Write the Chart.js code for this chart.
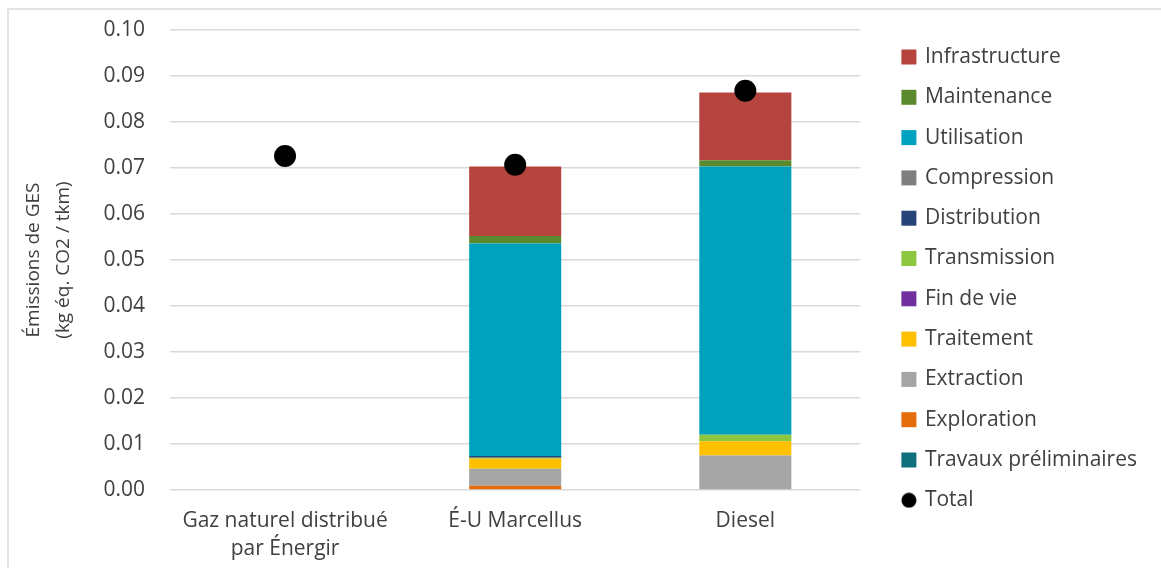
<!DOCTYPE html>
<html lang="fr">
<head>
  <meta charset="UTF-8">
  <title>Émissions de GES par filière</title>
  <script src="https://cdn.jsdelivr.net/npm/chart.js"></script>
  <style>
    body { margin: 0; background: #ffffff; }
    .wrap { position: relative; width: 1161px; height: 568px; }
    /* light frame visible on the top and left of the original picture */
    .frame {
      position: absolute; left: 7px; top: 8px; right: -2px; bottom: -2px;
      border-top: 2px solid #e3e3e3; border-left: 2px solid #e3e3e3;
    }
    canvas { position: relative; }
  </style>
</head>
<body>
  <div class="wrap">
    <div class="frame"></div>
    <canvas id="chart"></canvas>
  </div>

  <script>
    const categories = [['Gaz naturel distribué', 'par Énergir'], 'É-U Marcellus', 'Diesel'];

    // stacked from the bottom up
    const travaux        = [null, 0, 0];
    const exploration    = [null, 0.0009, 0];
    const extraction     = [null, 0.0037, 0.0075];
    const traitement     = [null, 0.0022, 0.0031];
    const finDeVie       = [null, 0, 0];
    const transmission   = [null, 0.0002, 0.0014];
    const distribution   = [null, 0.0004, 0];
    const compression    = [null, 0, 0];
    const utilisation    = [null, 0.0462, 0.0583];
    const maintenance    = [null, 0.0016, 0.0014];
    const infrastructure = [null, 0.0151, 0.0147];
    const totals         = [0.0726, 0.0707, 0.0868];

    const yTicks = [0, 0.01, 0.02, 0.03, 0.04, 0.05, 0.06, 0.07, 0.08, 0.09, 0.10];

    const textColor = '#404040';
    const fontFamily = "'Open Sans', sans-serif";

    function bar(label, data, color) {
      return { type: 'bar', label, data, backgroundColor: color, borderWidth: 0,
               barPercentage: 0.4, categoryPercentage: 1, stack: 'parts', pointStyle: 'rect' };
    }

    // black disc used in the legend for "Total"
    const dot = document.createElement('canvas');
    dot.width = 16; dot.height = 16;
    const dctx = dot.getContext('2d');
    dctx.fillStyle = '#000';
    dctx.beginPath(); dctx.arc(8, 8, 7.5, 0, Math.PI * 2); dctx.fill();

    const datasets = [
      bar('Travaux préliminaires', travaux, '#10707C'),
      bar('Exploration', exploration, '#E46C0A'),
      bar('Extraction', extraction, '#A5A5A5'),
      bar('Traitement', traitement, '#FFC000'),
      bar('Fin de vie', finDeVie, '#7030A0'),
      bar('Transmission', transmission, '#8DC63F'),
      bar('Distribution', distribution, '#264478'),
      bar('Compression', compression, '#7F7F7F'),
      bar('Utilisation', utilisation, '#00A1BF'),
      bar('Maintenance', maintenance, '#5B8A2E'),
      bar('Infrastructure', infrastructure, '#B5443F'),
      { type: 'line', label: 'Total', data: totals, stack: 'total', showLine: false,
        pointRadius: 11, pointHoverRadius: 11, pointBackgroundColor: '#000', pointBorderWidth: 0,
        borderColor: '#000', backgroundColor: '#000', order: -1 }
    ];
    const totalIdx = datasets.length - 1;

    // empty helper axes, only used to reserve space around the plot
    function spacer(position, size) {
      return {
        position, display: true,
        grid: { display: false, drawTicks: false },
        border: { display: false },
        ticks: { display: false },
        afterFit(s) { if (position === 'top') s.height = size; else s.width = size; }
      };
    }

    const ctx = document.getElementById('chart').getContext('2d');
    new Chart(ctx, {
      data: { labels: categories, datasets },
      options: {
        responsive: true,
        maintainAspectRatio: false,
        animation: false,
        layout: { autoPadding: false, padding: { top: 0, right: 14, bottom: 0, left: 18.4 } },
        plugins: {
          tooltip: { enabled: false },
          legend: {
            position: 'right',
            align: 'start',
            maxWidth: 320,
            title: { display: true, text: ' ', font: { size: 10, lineHeight: 1 }, padding: { top: 17.2, bottom: 0 } },
            labels: {
              usePointStyle: true,
              boxWidth: 11,
              boxHeight: 15,
              padding: 19.3,
              color: textColor,
              font: { family: fontFamily, size: 21 },
              sort: (a, b) => {
                const ka = a.datasetIndex === totalIdx ? 999 : -a.datasetIndex;
                const kb = b.datasetIndex === totalIdx ? 999 : -b.datasetIndex;
                return ka - kb;
              },
              generateLabels(chart) {
                const items = Chart.defaults.plugins.legend.labels.generateLabels(chart);
                items.forEach(it => {
                  it.lineWidth = 0;
                  it.pointStyle = it.datasetIndex === totalIdx ? dot : 'rect';
                });
                return items;
              }
            }
          }
        },
        scales: {
          x: {
            grid: { display: false, drawTicks: false },
            border: { display: false },
            ticks: {
              color: textColor, padding: 17, maxRotation: 0,
              font: { family: fontFamily, size: 21, lineHeight: 1.333 }
            },
            afterFit(s) { s.height = 78; }
          },
          xt: Object.assign({ type: 'category' }, spacer('top', 30)),
          y: {
            stacked: true,
            min: 0,
            max: 0.10,
            afterBuildTicks(s) { s.ticks = yTicks.map(v => ({ value: v })); },
            afterFit(s) { s.paddingTop = 0; s.paddingBottom = 0; },
            grid: { color: '#d9d9d9', lineWidth: 1.5, drawTicks: false },
            border: { display: false },
            ticks: {
              color: textColor, padding: 25,
              font: { family: fontFamily, size: 21 },
              callback: v => Number(v).toFixed(2)
            },
            title: {
              display: true,
              text: ['Émissions de GES', '(kg éq. CO2 / tkm)'],
              color: textColor,
              font: { family: fontFamily, size: 19, lineHeight: 1.58 },
              padding: { top: 0, bottom: 0 }
            }
          },
          yr: Object.assign({ type: 'linear' }, spacer('right', 23.7))
        }
      }
    });
  </script>
</body>
</html>
